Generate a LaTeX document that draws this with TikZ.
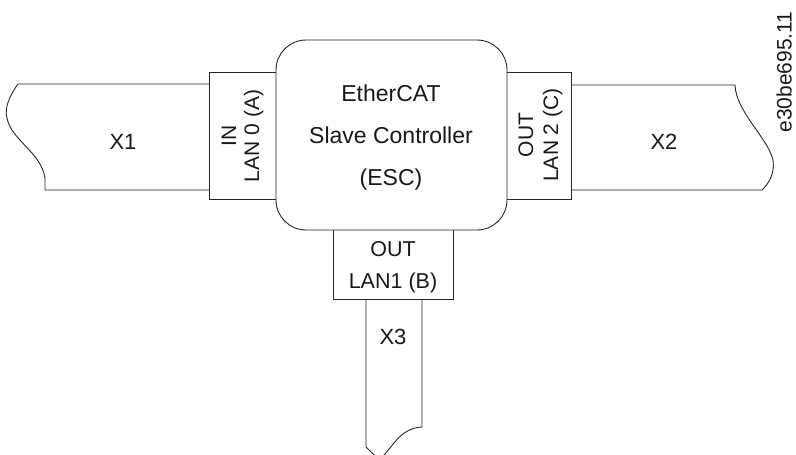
\documentclass[tikz,border=0pt]{standalone}
\usepackage{fontspec}
\setmainfont{Liberation Sans}
\tikzset{
  ln/.style={draw=black!85, line width=0.9pt},
  portbox/.style={ln, fill=white, rectangle, inner sep=0pt},
  esc/.style={ln, fill=white, rectangle, rounded corners=30pt, inner sep=0pt},
  lbl/.style={text=black!90, inner sep=0pt},
}
\begin{document}
\begin{tikzpicture}[x=1pt,y=-1pt]
\useasboundingbox (0,0) rectangle (796,455);
\begin{scope}
\clip (0,0) rectangle (796,455);
% cables
\draw[ln] (209,84) -- (18,84) .. controls (10,95) and (4,108) .. (7,118)
   .. controls (11,140) and (41,152) .. (45,178) -- (45,190) -- (209,190);
\draw[ln] (571,85) -- (735,85) .. controls (736,112) and (768,138) .. (773,160)
   .. controls (775,175) and (768,184) .. (762,190) -- (571,190);
\draw[ln] (366,299) -- (366,447) .. controls (372,453) and (377,459) .. (382,457)
   .. controls (392,448) and (400,428) .. (422,427) -- (422,299);
\end{scope}
% port boxes
\node[portbox, minimum width=90pt, minimum height=127pt] (pa) at (254,135.5) {};
\node[portbox, minimum width=90pt, minimum height=127pt] (pc) at (526,135.5) {};
\node[portbox, minimum width=120pt, minimum height=90pt] (pb) at (393,254) {};
% ESC
\node[esc, minimum width=231pt, minimum height=190pt] (escbox) at (391.5,135) {};
\node[lbl, align=center, font=\fontsize{23}{42}\selectfont] (esctxt) at (391,138)
  {EtherCAT\\Slave Controller\\(ESC)};
% port labels
\node[lbl, rotate=90, align=center, font=\fontsize{21}{23}\selectfont] (la) at (242.5,136) {IN\\LAN 0 (A)};
\node[lbl, rotate=90, align=center, font=\fontsize{21}{25}\selectfont] (lc) at (540.5,135) {OUT\\LAN 2 (C)};
\node[lbl, align=center, font=\fontsize{21.5}{32}\selectfont] (lb) at (393,267) {OUT\\LAN1 (B)};
% cable labels
\node[lbl, font=\fontsize{22}{24}\selectfont] (x1) at (123,142) {X1};
\node[lbl, font=\fontsize{22}{24}\selectfont] (x2) at (664,142) {X2};
\node[lbl, font=\fontsize{22}{24}\selectfont] (x3) at (393,337) {X3};
% figure id
\node[lbl, rotate=90, font=\fontsize{21}{23}\selectfont] (fid) at (784,72) {e30be695.11};
\end{tikzpicture}
\end{document}
